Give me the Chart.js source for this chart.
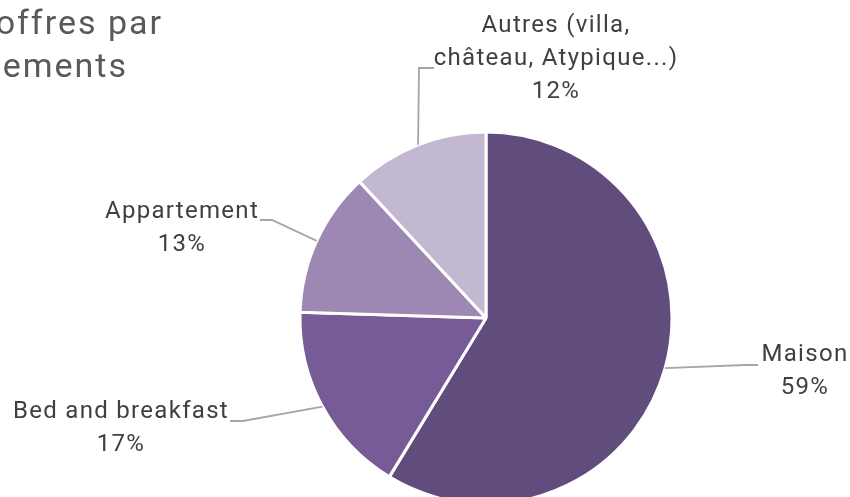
<!DOCTYPE html>
<html lang="fr">
<head>
    <meta charset="UTF-8">
    <title>Répartition des offres par type d'hébergements</title>
    <style>
        html, body { margin: 0; padding: 0; background: #fff; overflow: hidden; }
        #wrap { position: relative; width: 850px; height: 497px; }
    </style>
</head>
<body>
    <div id="wrap"><canvas id="graphique" width="850" height="497"></canvas></div>

    <script src="https://cdn.jsdelivr.net/npm/chart.js"></script>
    <script>
        // Données
        const categories = ['Maison', 'Bed and breakfast', 'Appartement', 'Autres (villa, château, Atypique...)'];
        const nomsAffiches = [['Maison'], ['Bed and breakfast'], ['Appartement'], ['Autres (villa,', 'château, Atypique...)']];
        const parts = [58.7, 16.8, 12.6, 11.9];
        const couleurs = ['#614c7e', '#765b96', '#9c88b3', '#c3b8d1'];
        const titreLignes = ['Répartition des offres par', 'type d\'hébergements'];

        // Position des étiquettes (centre du texte, coude et fin du trait)
        const etiquettes = [
            { cx: 804, cy: 355, coude: [745, 365], fin: [758, 365] },
            { cx: 120, cy: 412, coude: [243, 421], fin: [230, 421] },
            { cx: 181, cy: 212, coude: [272, 220], fin: [260, 220] },
            { cx: 555, cy: 26,  coude: [419, 68],  fin: [434, 68] }
        ];

        const pluginEtiquettes = {
            id: 'etiquettes',
            afterDatasetsDraw(chart) {
                const ctx = chart.ctx;
                const meta = chart.getDatasetMeta(0);
                ctx.save();
                // traits de rappel
                meta.data.forEach((arc, i) => {
                    const p = arc.getProps(['x', 'y', 'startAngle', 'endAngle', 'outerRadius'], true);
                    const a = (p.startAngle + p.endAngle) / 2;
                    const x0 = p.x + Math.cos(a) * p.outerRadius;
                    const y0 = p.y + Math.sin(a) * p.outerRadius;
                    const e = etiquettes[i];
                    ctx.strokeStyle = '#a6a6a6';
                    ctx.lineWidth = 1.8;
                    ctx.beginPath();
                    ctx.moveTo(x0, y0);
                    ctx.lineTo(e.coude[0], e.coude[1]);
                    ctx.lineTo(e.fin[0], e.fin[1]);
                    ctx.stroke();
                });
                // textes
                ctx.fillStyle = '#404040';
                ctx.font = '24px Roboto';
                ctx.letterSpacing = '1.3px';
                ctx.textAlign = 'center';
                ctx.textBaseline = 'middle';
                const total = parts.reduce((s, v) => s + v, 0);
                nomsAffiches.forEach((lignes, i) => {
                    const e = etiquettes[i];
                    const pct = Math.round(parts[i] / total * 100) + '%';
                    const tout = lignes.concat([pct]);
                    tout.forEach((t, k) => ctx.fillText(t, e.cx + 1, e.cy + k * 33));
                });
                // titre (coupé à gauche)
                ctx.fillStyle = '#595959';
                ctx.font = '34px Roboto';
                ctx.letterSpacing = '2px';
                ctx.textAlign = 'right';
                ctx.textBaseline = 'alphabetic';
                ctx.fillText(titreLignes[0], 163, 34);
                ctx.fillText(titreLignes[1], 128, 77);
                ctx.restore();
            }
        };

        new Chart(document.getElementById('graphique'), {
            type: 'pie',
            data: {
                labels: categories,
                datasets: [{
                    data: parts,
                    backgroundColor: couleurs,
                    borderColor: '#ffffff',
                    borderWidth: 3,
                    radius: 186,
                    clip: false
                }]
            },
            options: {
                responsive: false,
                animation: false,
                events: [],
                layout: { padding: { left: 122, right: 0, top: 139, bottom: 0 } },
                plugins: {
                    legend: { display: false },
                    tooltip: { enabled: false }
                }
            },
            plugins: [pluginEtiquettes]
        });
    </script>
</body>
</html>
